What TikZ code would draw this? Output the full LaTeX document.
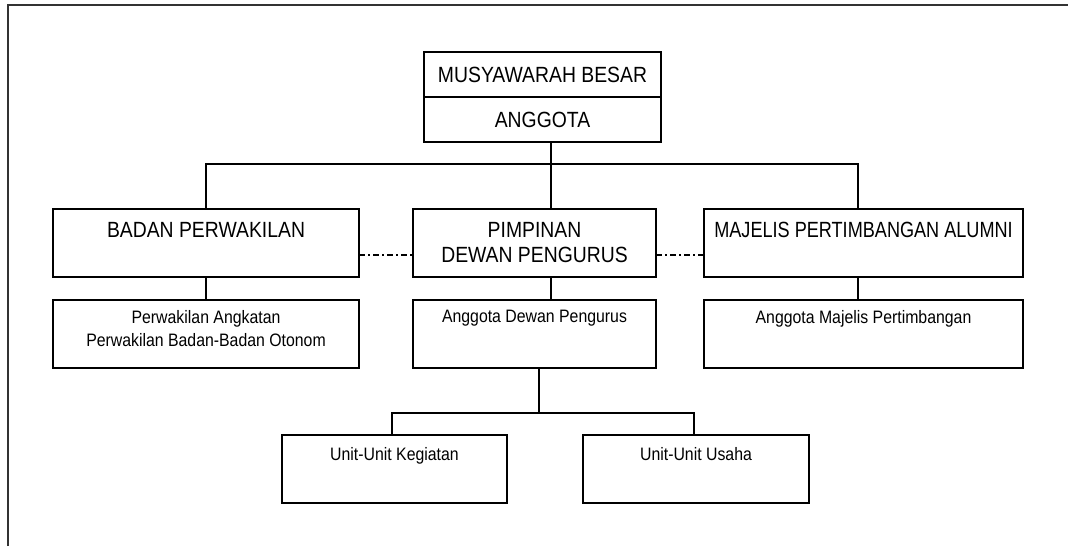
\documentclass[tikz,border=0pt]{standalone}
\usepackage{fontspec}
\usepackage{graphicx}
\setmainfont{Liberation Sans}[FakeStretch=0.88]
\usetikzlibrary{positioning,calc}

\begin{document}
\begin{tikzpicture}[x=0.5pt, y=-0.5pt,
    unit/.style={draw, line width=1pt, outer sep=0pt, inner sep=0pt, minimum height=34pt},
    big/.style={font=\fontsize{11}{12.5}\selectfont},
    small/.style={font=\fontsize{9}{11.5}\selectfont},
    title/.style={label={[anchor=north, yshift=-6.5pt, inner sep=0pt, align=center, big]north:#1}},
    entry/.style={label={[anchor=north, yshift=-5pt, inner sep=0pt, align=center, small]north:#1}},
    link/.style={line width=0.75pt},
    dashdot/.style={line width=0.75pt, dash pattern=on 3pt off 1.6pt on 0.8pt off 1.6pt},
    frame/.style={line width=0.8pt, black!80}]
    \useasboundingbox (0,0) rectangle (1068,546);
    \draw[frame] (8,546) |- (1068,5);
    % top
    \node[unit, big, minimum width=118.5pt, minimum height=22.5pt] (musy) at (542.5,74.5) {MUSYAWARAH BESAR};
    \node[unit, big, minimum width=118.5pt, minimum height=22.5pt] (anggota) [below=0pt of musy] {ANGGOTA};
    % second row
    \node[unit, minimum width=121.5pt, title={PIMPINAN\\DEWAN PENGURUS}] (pimpinan) at (534.5,243) {};
    \node[unit, minimum width=153pt, title={BADAN PERWAKILAN}] (badan) [left=27pt of pimpinan] {};
    \node[unit, minimum width=159.5pt, title={\scalebox{0.935}[1]{MAJELIS PERTIMBANGAN ALUMNI}}] (majelis) [right=24pt of pimpinan] {};
    % third row
    \node[unit, minimum width=153pt, entry={Perwakilan Angkatan\\Perwakilan Badan-Badan Otonom}] (perwakilan) [below=11.5pt of badan] {};
    \node[unit, minimum width=121.5pt, entry={Anggota Dewan Pengurus}] (anggotadp) [below=11.5pt of pimpinan] {};
    \node[unit, minimum width=159.5pt, entry={Anggota Majelis Pertimbangan}] (anggotamp) [below=11.5pt of majelis] {};
    % fourth row
    \node[unit, minimum width=112.5pt, label={[anchor=north, yshift=-6pt, inner sep=0pt, small]north:Unit-Unit Kegiatan}] (kegiatan) at (394.5,469) {};
    \node[unit, minimum width=113pt, label={[anchor=north, yshift=-6pt, inner sep=0pt, small]north:Unit-Unit Usaha}] (usaha) at (696,469) {};

    \coordinate (bus) at (551,164);
    \coordinate (fork) at (539,413);
    \draw[link] (anggota.south -| bus) -- (pimpinan.north -| bus);
    \draw[link] (badan.north) |- (bus) -| ($(majelis.north)+(-5.5,0)$);
    \draw[link] (badan.south) -- (perwakilan.north);
    \draw[link] (pimpinan.south -| bus) -- (anggotadp.north -| bus);
    \draw[link] ($(majelis.south)+(-5.5,0)$) -- ($(anggotamp.north)+(-5.5,0)$);
    \draw[link] (anggotadp.south -| fork) -- (fork);
    \draw[link] ($(kegiatan.north)+(-2.5,0)$) |- (fork) -| ($(usaha.north)+(-2,0)$);
    \draw[dashdot] ($(badan.east)+(0,12)$) -- ($(pimpinan.west)+(0,12)$);
    \draw[dashdot] ($(pimpinan.east)+(0,12)$) -- ($(majelis.west)+(0,12)$);
\end{tikzpicture}
\end{document}
